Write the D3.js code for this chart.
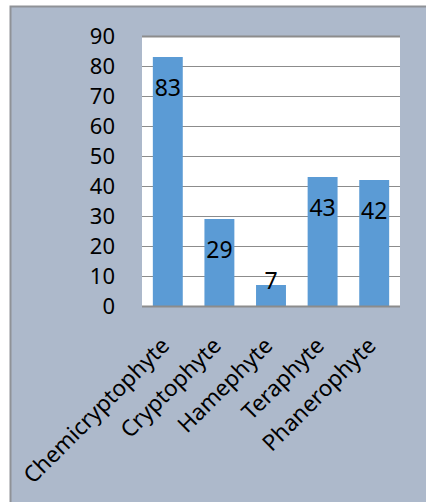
<!DOCTYPE html>
<meta charset="utf-8">
<html lang="en">
<head>
<script src="https://d3js.org/d3.v7.min.js"></script>
<style>
  body { margin: 0; background: #fff; }
  text { font-family: "Noto Sans", sans-serif; fill: #000; }
</style>
</head>
<body>
<div id="my_graph"></div>
<script>
// data
const categories = ["Chemicryptophyte", "Cryptophyte", "Hamephyte", "Teraphyte", "Phanerophyte"];
const counts = [83, 29, 7, 43, 42];
const yTicks = [0, 10, 20, 30, 40, 50, 60, 70, 80, 90];

const W = 426, H = 502;
const plot = {left: 142, right: 400, top: 36, bottom: 306};

const svg = d3.select("#my_graph")
  .append("svg")
    .attr("width", W)
    .attr("height", H);

// grey-blue panel behind the chart
svg.append("rect")
  .attr("x", 10.5).attr("y", 6.5)
  .attr("width", W).attr("height", H)
  .attr("fill", "#adb9cb")
  .attr("stroke", "#8f9297")
  .attr("stroke-width", 2);

svg.append("rect")
  .attr("x", plot.left).attr("y", plot.top)
  .attr("width", plot.right - plot.left).attr("height", plot.bottom - plot.top)
  .attr("fill", "#fff");

const x = d3.scaleBand()
  .domain(categories)
  .range([plot.left, plot.right])
  .paddingInner(0.42)
  .paddingOuter(0.21);

const y = d3.scaleLinear()
  .domain([0, 90])
  .range([plot.bottom, plot.top]);

// gridlines
svg.append("g")
  .selectAll("line")
  .data(yTicks.filter(d => d > 0))
  .join("line")
    .attr("x1", plot.left).attr("x2", plot.right)
    .attr("y1", d => y(d) + 0.5).attr("y2", d => y(d) + 0.5)
    .attr("stroke", "#8c8c8c")
    .attr("stroke-width", d => d === 90 ? 2 : 1);

// y axis labels
const yAxis = svg.append("g")
  .attr("transform", `translate(${plot.left},0)`)
  .call(d3.axisLeft(y).tickValues(yTicks).tickSize(0).tickPadding(27));
yAxis.select(".domain").remove();
yAxis.selectAll("text")
  .style("font-family", "'Noto Sans', sans-serif")
  .style("font-size", "22px")
  .attr("fill", "#000");

// bars
svg.append("g")
  .selectAll("rect")
  .data(categories)
  .join("rect")
    .attr("x", d => x(d))
    .attr("y", (d, i) => y(counts[i]))
    .attr("width", x.bandwidth())
    .attr("height", (d, i) => plot.bottom - y(counts[i]))
    .attr("fill", "#5b9bd5");

// axis line at zero
svg.append("line")
  .attr("x1", plot.left).attr("x2", plot.right)
  .attr("y1", plot.bottom + 0.5).attr("y2", plot.bottom + 0.5)
  .attr("stroke", "#8c8c8c")
  .attr("stroke-width", 2);

// value labels
svg.append("g")
  .selectAll("text")
  .data(categories)
  .join("text")
    .attr("x", d => x(d) + x.bandwidth() / 2)
    .attr("y", (d, i) => {
      const top = y(counts[i]);
      return plot.bottom - top > 40 ? top + 39 : top + 4;
    })
    .attr("text-anchor", "middle")
    .style("font-size", "23px")
    .text((d, i) => counts[i]);

// rotated category labels
svg.append("g")
  .selectAll("text")
  .data(categories)
  .join("text")
    .attr("transform", d => `translate(${x(d) + x.bandwidth() / 2 + 3},${plot.bottom + 41}) rotate(-45)`)
    .attr("text-anchor", "end")
    .style("font-size", "22.5px")
    .text(d => d);
</script>
</body>
</html>
